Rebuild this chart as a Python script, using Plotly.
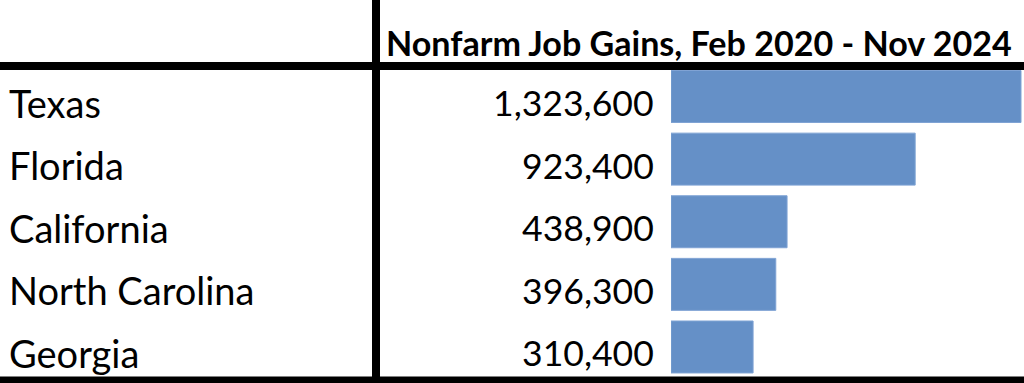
import plotly.graph_objects as go

states = ["Texas", "Florida", "California", "North Carolina", "Georgia"]
job_gains = [1323600, 923400, 438900, 396300, 310400]
header = "Nonfarm Job Gains, Feb 2020 - Nov 2024"

W, H = 1024, 383
BAR_COLOR = "#6590C7"
FONT = "Lato"

fig = go.Figure()
fig.add_trace(go.Bar(
    x=job_gains, y=states, orientation="h",
    marker=dict(color=BAR_COLOR, line=dict(color="#7FA3D4", width=1)),
    hoverinfo="skip",
))

annotations = []
for s, v in zip(states, job_gains):
    annotations.append(dict(x=7 / W, xref="paper", y=s, yref="y", text=s,
                            xanchor="left", yanchor="middle", showarrow=False,
                            yshift=-6,
                            font=dict(family=FONT, size=38, color="black")))
    annotations.append(dict(x=656 / W, xref="paper", y=s, yref="y", text=f"{v:,}",
                            xanchor="right", yanchor="middle", showarrow=False,
                            yshift=-6,
                            font=dict(family=FONT, size=35.6, color="black")))
annotations.append(dict(x=1014 / W, xref="paper", y=(H - 42) / H, yref="paper",
                        text="<b>" + header + "</b>", xanchor="right", yanchor="middle",
                        showarrow=False, font=dict(family=FONT, size=34.1, color="black")))

shapes = [
    dict(type="line", xref="paper", yref="paper", x0=376 / W, x1=376 / W, y0=0, y1=1,
         line=dict(color="black", width=8)),
    dict(type="line", xref="paper", yref="paper", x0=0, x1=1, y0=(H - 66) / H, y1=(H - 66) / H,
         line=dict(color="black", width=8)),
    dict(type="line", xref="paper", yref="paper", x0=0, x1=1, y0=(H - 380) / H, y1=(H - 380) / H,
         line=dict(color="black", width=7)),
]

x0px = 671
xmax = job_gains[0] * (W - x0px) / 350

fig.update_layout(
    width=W, height=H,
    margin=dict(l=0, r=0, t=0, b=0),
    paper_bgcolor="white", plot_bgcolor="white",
    showlegend=False,
    bargap=0.17,
    xaxis=dict(domain=[x0px / W, 1], range=[0, xmax], visible=False),
    yaxis=dict(domain=[(H - 378.3) / H, (H - 65.2) / H], type="category",
               categoryorder="array", categoryarray=states,
               range=[4.5, -0.5], visible=False),
    annotations=annotations,
    shapes=shapes,
)

fig.write_html("out.html", config={"displayModeBar": False},
               post_script="document.body.style.margin='0';document.body.style.overflow='hidden';")
